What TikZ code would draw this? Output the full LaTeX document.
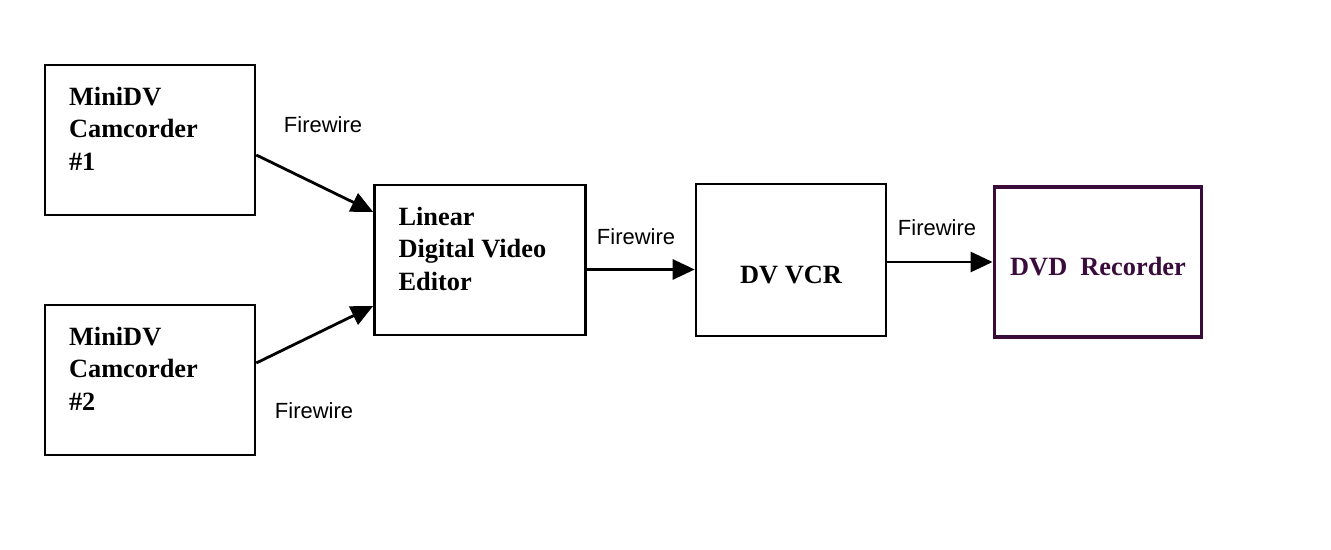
\documentclass[tikz,border=0pt]{standalone}
\usepackage{fontspec}
\setmainfont{Liberation Serif}
\setsansfont{Liberation Sans}
\usetikzlibrary{arrows.meta,positioning,calc}
\definecolor{dvdpurple}{RGB}{58,12,60}

\begin{document}
\begin{tikzpicture}[x=0.02cm,y=-0.02cm,
  box/.style={draw,line width=1.5pt,minimum width=4.2cm,minimum height=3cm,inner sep=0pt},
  boxtext/.style={font=\fontsize{15}{18.5}\selectfont\bfseries,align=left,inner sep=0pt},
  wire/.style={line width=1.6pt,-{Triangle[length=0.44cm,width=0.4cm]}},
  fw/.style={font=\sffamily\fontsize{12.5}{15}\selectfont,inner sep=0pt}]
\useasboundingbox (0,0) rectangle (1331,550);
\node[box] (cam1) at (150,140) {};
\node[box] (cam2) at (150,380) {};
\node[box,minimum width=4.22cm] (editor) at (480,260) {};
\node[box,minimum width=3.8cm,minimum height=3.04cm] (vcr) at (791,260) {};
\node[box,draw=dvdpurple,line width=2.2pt,minimum width=4.14cm] (dvd) at (1098,262) {};
% box texts
\node[boxtext,below right=0.46cm and 0.5cm of cam1.north west] (cam1txt) {MiniDV\\Camcorder\\\#1};
\node[boxtext,below right=0.46cm and 0.5cm of cam2.north west] (cam2txt) {MiniDV\\Camcorder\\\#2};
\node[boxtext,below right=0.46cm and 0.5cm of editor.north west] (edtxt) {Linear\\Digital Video\\Editor};
\node[boxtext] (vcrtxt) at ([yshift=-0.3cm]vcr.center) {DV VCR};
\node[boxtext,text=dvdpurple] (dvdtxt) at ([yshift=-0.1cm]dvd.center) {DVD\ \ Recorder};
% connectors
\draw[wire] ([yshift=-0.3cm]cam1.east) -- ([yshift=0.96cm]editor.west);
\draw[wire] ([yshift=0.34cm]cam2.east) -- ([yshift=-0.92cm]editor.west);
\draw[wire] ([yshift=-0.19cm]editor.east) -- ([yshift=-0.19cm]editor.east -| vcr.west);
\draw[wire] (vcr.east |- dvd.west) -- (dvd.west);
% labels
\node[fw] (fw1) at (323,125) {Firewire};
\node[fw] (fw2) at (314,411) {Firewire};
\node[fw] (fw3) at (636,237) {Firewire};
\node[fw] (fw4) at (937,228) {Firewire};
\end{tikzpicture}
\end{document}
